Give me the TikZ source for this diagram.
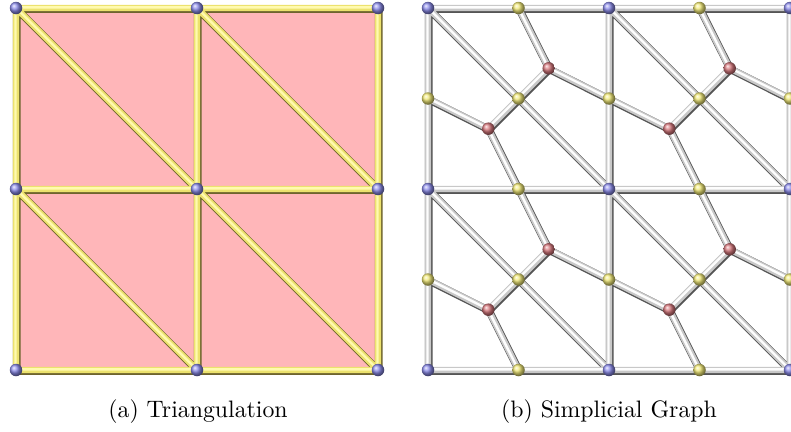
\documentclass[tikz,border=0pt]{standalone}
\usepackage{graphicx}
\definecolor{pinkfill}{RGB}{255,182,185}
\definecolor{yelDark}{RGB}{110,100,45}
\definecolor{yelMid}{RGB}{236,226,110}
\definecolor{yelHi}{RGB}{255,250,175}
\definecolor{gDark}{RGB}{85,85,85}
\definecolor{gMid}{RGB}{200,200,200}
\definecolor{gHi}{RGB}{253,253,253}
\definecolor{sphBlue}{RGB}{140,140,235}
\definecolor{sphYel}{RGB}{242,234,120}
\definecolor{sphRed}{RGB}{215,120,125}
\newcommand\tubepath[4]{%
  \draw[#1,line width=7.6pt,transform canvas={xshift=0.7pt,yshift=-1pt}] #4;
  \draw[#2,line width=6.2pt] #4;
  \draw[#3,line width=2.4pt,transform canvas={xshift=-0.5pt,yshift=0.7pt}] #4;}
\begin{document}
\begin{tikzpicture}[x=1pt,y=-1pt,
  sphere/.style={circle,inner sep=0pt,minimum size=12.5pt,shading=ball},
  bluesph/.style={sphere,ball color=sphBlue},
  yelsph/.style={sphere,ball color=sphYel},
  redsph/.style={sphere,ball color=sphRed},
  caption/.style={anchor=base,inner sep=0pt}]
\useasboundingbox (0,0) rectangle (791,431);
% ---------- left panel ----------
\foreach \i in {0,1,2}{\foreach \j in {0,1,2}{
  \coordinate (L\i\j) at ({16+181*\i},{8+181*\j});}}
\fill[pinkfill] (L00) rectangle (L22);
\newcommand\leftedges{(L00)--(L20) (L01)--(L21) (L02)--(L22)
  (L00)--(L02) (L10)--(L12) (L20)--(L22)
  (L00)--(L11) (L10)--(L21) (L01)--(L12) (L11)--(L22)}
\tubepath{yelDark}{yelMid}{yelHi}{\leftedges}
\foreach \i in {0,1,2}{\foreach \j in {0,1,2}{
  \node[bluesph] (LV\i\j) at (L\i\j) {};}}
% ---------- right panel ----------
\foreach \i in {0,1,2}{\foreach \j in {0,1,2}{
  \coordinate (R\i\j) at ({428+181*\i},{8+181*\j});}}
\foreach \i in {0,1}{\foreach \j in {0,1,2}{
  \coordinate (H\i\j) at ({518.5+181*\i},{8+181*\j});}}
\foreach \i in {0,1,2}{\foreach \j in {0,1}{
  \coordinate (V\i\j) at ({428+181*\i},{98.5+181*\j});}}
\foreach \i in {0,1}{\foreach \j in {0,1}{
  \coordinate (C\i\j) at ({518.5+181*\i},{98.5+181*\j});
  \coordinate (U\i\j) at ({428+181*\i+120.7},{8+181*\j+60.3});
  \coordinate (W\i\j) at ({428+181*\i+60.3},{8+181*\j+120.7});}}
\newcommand\rightedges{(R00)--(R20) (R01)--(R21) (R02)--(R22)
  (R00)--(R02) (R10)--(R12) (R20)--(R22)
  (R00)--(R11) (R10)--(R21) (R01)--(R12) (R11)--(R22)
  (U00)--(H00) (U00)--(C00) (U00)--(V10) (W00)--(V00) (W00)--(C00) (W00)--(H01)
  (U10)--(H10) (U10)--(C10) (U10)--(V20) (W10)--(V10) (W10)--(C10) (W10)--(H11)
  (U01)--(H01) (U01)--(C01) (U01)--(V11) (W01)--(V01) (W01)--(C01) (W01)--(H02)
  (U11)--(H11) (U11)--(C11) (U11)--(V21) (W11)--(V11) (W11)--(C11) (W11)--(H12)}
\tubepath{gDark}{gMid}{gHi}{\rightedges}
\foreach \i in {0,1,2}{\foreach \j in {0,1,2}{
  \node[bluesph] (RV\i\j) at (R\i\j) {};}}
\foreach \i in {0,1}{\foreach \j in {0,1,2}{
  \node[yelsph] (HY\i\j) at (H\i\j) {};}}
\foreach \i in {0,1,2}{\foreach \j in {0,1}{
  \node[yelsph] (VY\i\j) at (V\i\j) {};}}
\foreach \i in {0,1}{\foreach \j in {0,1}{
  \node[yelsph] (CY\i\j) at (C\i\j) {};
  \node[redsph] (UR\i\j) at (U\i\j) {};
  \node[redsph] (WR\i\j) at (W\i\j) {};}}
% ---------- captions ----------
\node[caption] (capa) at (198,417) {\scalebox{2.38}{(a) Triangulation}};
\node[caption] (capb) at (609,417) {\scalebox{2.38}{(b) Simplicial Graph}};
\end{tikzpicture}
\end{document}
